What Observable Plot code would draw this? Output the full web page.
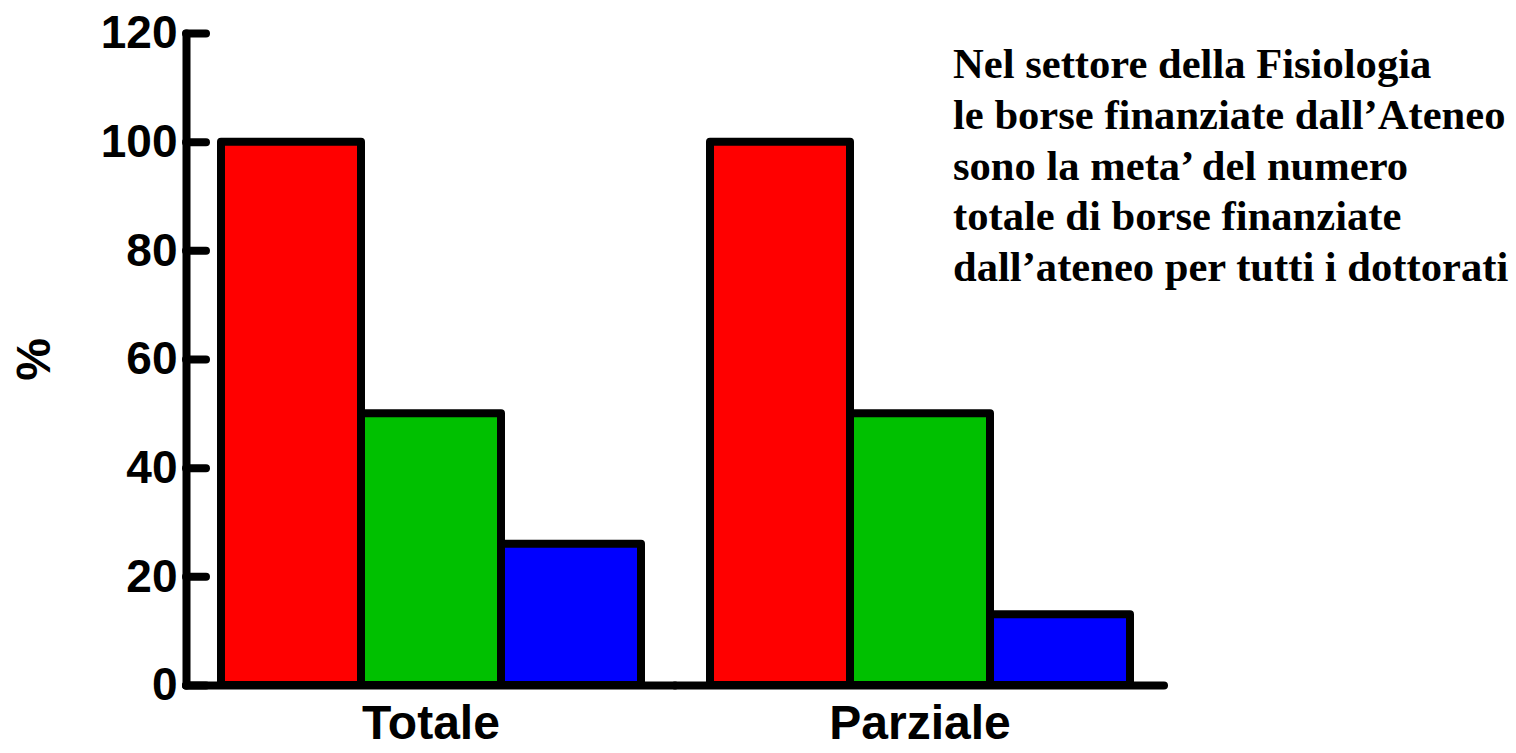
<!DOCTYPE html>
<html>
<head>
<meta charset="utf-8">
<script src="https://cdn.jsdelivr.net/npm/d3@7"></script>
<script src="https://cdn.jsdelivr.net/npm/@observablehq/plot@0.6"></script>
<style>
  html, body { margin: 0; padding: 0; background: #fff; }
  #wrap { position: relative; width: 1516px; height: 753px; overflow: hidden; }
  #note {
    position: absolute; left: 953px; top: 39px;
    font-family: "Liberation Serif", "Times New Roman", serif;
    font-weight: bold; font-size: 42.6px; line-height: 50.8px;
    color: #000; white-space: pre;
  }
</style>
</head>
<body>
<div id="wrap"><div id="note"></div></div>
<script>
const groups = ["Totale", "Parziale"];
const series = ["Serie 1", "Serie 2", "Serie 3"];
const totaleValues = [100, 50, 26];
const parzialeValues = [100, 50, 13];
const seriesColors = ["#ff0000", "#00c000", "#0000ff"];
const yTicks = [0, 20, 40, 60, 80, 100, 120];
const yLabel = "%";
const noteLines = [
  "Nel settore della Fisiologia",
  "le borse finanziate dall’Ateneo",
  "sono la meta’ del numero",
  "totale di borse finanziate",
  "dall’ateneo per tutti i dottorati"
];

const valuesByGroup = [totaleValues, parzialeValues];
const data = groups.flatMap((g, i) =>
  series.map((s, j) => ({group: g, series: s, value: valuesByGroup[i][j]}))
);

const chart = Plot.plot({
  width: 1516,
  height: 753,
  marginLeft: 186,
  marginRight: 352,
  marginTop: 33,
  marginBottom: 68,
  style: {fontFamily: "'Liberation Sans', Arial, sans-serif", fontWeight: "bold", color: "#000", background: "transparent", overflow: "visible"},
  fx: {domain: groups, padding: 0, label: null},
  x: {domain: series, paddingInner: 0, paddingOuter: 0.235, axis: null},
  y: {domain: [0, 120], label: null},
  color: {domain: series, range: seriesColors},
  marks: [
    Plot.barY(data, {fx: "group", x: "series", y: "value", fill: "series", stroke: "#000", strokeWidth: 8, strokeLinejoin: "round"}),
    Plot.ruleY([0], {stroke: "#000", strokeWidth: 8, strokeLinecap: "round"}),
    Plot.frame({anchor: "left", facetAnchor: "left", stroke: "#000", strokeWidth: 8, strokeLinecap: "round"}),
    Plot.axisY(yTicks, {tickSize: -20, tickPadding: 29, stroke: "#000", strokeWidth: 8, strokeLinecap: "round", fontSize: 46, fontWeight: "bold", fill: "#000", label: null}),
    Plot.axisFx({anchor: "bottom", tickSize: 0, tickPadding: 19, fontSize: 48, fontWeight: "bold", fill: "#000", label: null}),
    Plot.text([yLabel], {facetAnchor: "left", frameAnchor: "left", textAnchor: "middle", rotate: -90, dx: -152, fontSize: 48, fontWeight: "bold", fill: "#000"})
  ]
});

document.getElementById("wrap").prepend(chart);
document.getElementById("note").textContent = noteLines.join("\n");
</script>
</body>
</html>
